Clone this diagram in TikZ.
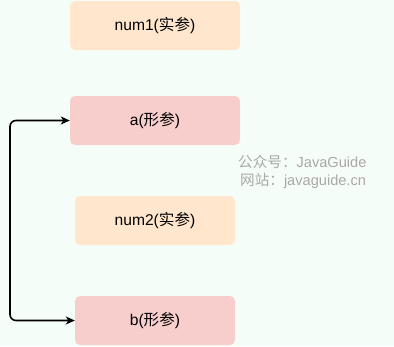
\documentclass[tikz,border=0pt]{standalone}
\usepackage{fontspec}
\setmainfont{Liberation Sans}
\newfontfamily\cjk{Noto Sans CJK SC}
\usetikzlibrary{arrows.meta}
\definecolor{pagebg}{HTML}{F5FDF8}
\definecolor{actualfill}{HTML}{FFE6CC}
\definecolor{formalfill}{HTML}{F8CECC}
\definecolor{marktext}{HTML}{A8A8A8}
\tikzstyle{actual} = [
    rectangle,
    rounded corners=5pt,
    minimum height=49pt,
    fill=actualfill,
    font=\fontsize{15.6}{18}\selectfont
]
\tikzstyle{formal} = [
    rectangle,
    rounded corners=5pt,
    minimum height=49pt,
    fill=formalfill,
    font=\fontsize{15.6}{18}\selectfont
]
\tikzstyle{watermark} = [
    anchor=west,
    inner sep=0pt,
    text=marktext,
    font=\fontsize{14.6}{16}\selectfont
]
\tikzstyle{arrow} = [
    line width=1.6pt,
    {Stealth[length=9pt,width=8pt,inset=2.5pt]}-{Stealth[length=9pt,width=8pt,inset=2.5pt]},
    rounded corners=6pt
]

\begin{document}
\begin{tikzpicture}[x=1pt, y=-1pt]

\fill [pagebg] (0,0) rectangle (394,346);
\useasboundingbox (0,0) rectangle (394,346);

\node (num1) [actual, minimum width=170pt] at (155,25.5) {num1({\cjk 实参})};

\node (a) [formal, minimum width=170pt] at (155,120.5) {a({\cjk 形参})};

\node (num2) [actual, minimum width=160pt] at (155,220.5) {num2({\cjk 实参})};

\node (b) [formal, minimum width=160pt] at (155,320.5) {b({\cjk 形参})};

\node (wechat) [watermark] at (238,162) {{\cjk 公众号：}JavaGuide};
\node (site) [watermark] at (240,181) {{\cjk 网站：}javaguide.cn};

\coordinate (turn) at (10,220);
\draw [arrow] (a.west) -- (a.west -| turn) -- (b.west -| turn) -- (b.west);

\end{tikzpicture}
\end{document}
